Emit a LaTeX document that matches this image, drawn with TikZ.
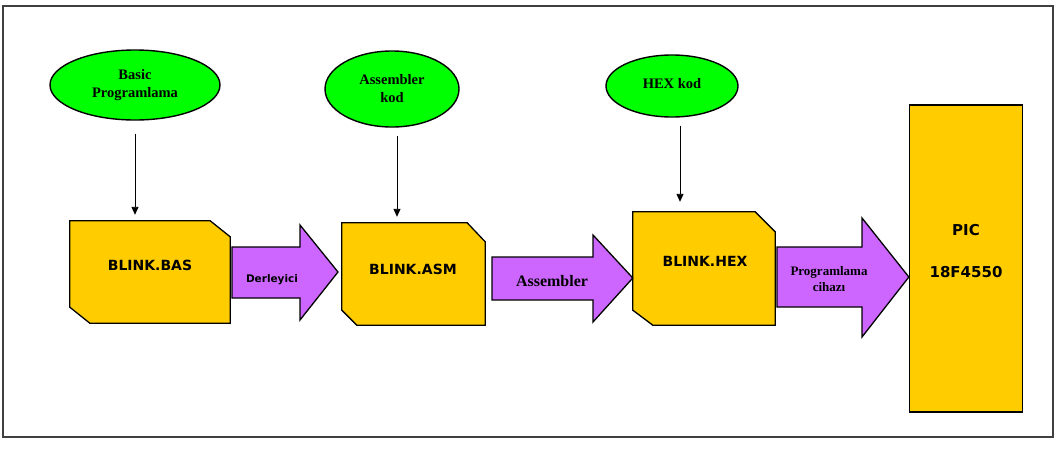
\documentclass[tikz,border=0pt]{standalone}
\usepackage{fontspec}
\setmainfont{Liberation Serif}
\newfontfamily\boxfont{DejaVu Sans}
\usetikzlibrary{arrows.meta,calc,shapes.geometric}
\definecolor{ovalgreen}{HTML}{00FF00}
\definecolor{filegold}{HTML}{FFCC00}
\definecolor{stepviolet}{HTML}{CC66FF}
\definecolor{framegray}{HTML}{404040}

\begin{document}
\begin{tikzpicture}[x=1pt,y=-1pt,
  frame/.style={draw=framegray,line width=1.3pt},
  oval/.style={ellipse,draw=black,line width=1.4pt,fill=ovalgreen,inner sep=0pt,
    align=center,font=\bfseries\fontsize{14.5}{18}\selectfont},
  anchorbox/.style={rectangle,draw=none,inner sep=0pt},
  filebox/.style={draw=black,line width=1.3pt,fill=filegold,line join=miter},
  filetext/.style={font=\boxfont\bfseries\fontsize{14}{16}\selectfont},
  blockarrow/.style={draw=black,line width=1.3pt,fill=stepviolet,line join=miter},
  feed/.style={draw=black,line width=0.9pt,-{Triangle[length=8pt,width=7pt]}},
]
\useasboundingbox (0,0) rectangle (1060,448);
\draw[frame] (3,6) rectangle (1053,437);

% source descriptions
\node[oval,minimum width=170pt,minimum height=70pt] (e1) at (135,85)
  {Basic\\Programlama};
\node[oval,minimum width=134pt,minimum height=76pt] (e2) at (392,89)
  {Assembler\\kod};
\node[oval,minimum width=132pt,minimum height=62pt] (e3) at (672,86)
  {\raisebox{6pt}{HEX kod}};

% file blocks (placeholders that carry the names)
\node[anchorbox,minimum width=160pt,minimum height=102pt] (b1) at (150,272) {};
\node[anchorbox,minimum width=143pt,minimum height=102pt] (b2) at (413.5,274) {};
\node[anchorbox,minimum width=142pt,minimum height=113pt] (b3) at (704,268.5) {};
\node[anchorbox,draw=black,line width=1.3pt,fill=filegold,
      minimum width=113pt,minimum height=307pt] (pic) at (966,258.5) {};

% snipped-corner outlines of the file blocks
\draw[filebox] (b1.north west) -- ($(b1.north east)+(-20,0)$) -- ($(b1.north east)+(0,16)$)
  -- (b1.south east) -- ($(b1.south west)+(20,0)$) -- ($(b1.south west)+(0,-16)$) -- cycle;
\draw[filebox] (b2.north west) -- ($(b2.north east)+(-18,0)$) -- ($(b2.north east)+(0,19)$)
  -- (b2.south east) -- ($(b2.south west)+(15,0)$) -- ($(b2.south west)+(0,-15)$) -- cycle;
\draw[filebox] (b3.north west) -- ($(b3.north east)+(-20,0)$) -- ($(b3.north east)+(0,20)$)
  -- (b3.south east) -- ($(b3.south west)+(20,0)$) -- ($(b3.south west)+(0,-15)$) -- cycle;

\node[filetext] at (150,265) {BLINK.BAS};
\node[filetext] at (413,269) {BLINK.ASM};
\node[filetext] at (705,261) {BLINK.HEX};
\node[filetext,font=\boxfont\bfseries\fontsize{15}{16}\selectfont] at (966,230) {PIC};
\node[filetext,font=\boxfont\bfseries\fontsize{15}{16}\selectfont] at (966,272) {18F4550};

% feeding arrows
\coordinate (x1) at (135,0);
\coordinate (x2) at (397,0);
\coordinate (x3) at (680,0);
\draw[feed] ([yshift=-13pt]x1 |- e1.south) -- ([yshift=6pt]x1 |- b1.north);
\draw[feed] ([yshift=-8pt]x2 |- e2.south) -- ([yshift=6pt]x2 |- b2.north);
\draw[feed] ([yshift=-8pt]x3 |- e3.south) -- ([yshift=10pt]x3 |- b3.north);

% processing steps between blocks
\draw[blockarrow] (232,247) -- (300,247) -- (300,225) -- (338,272)
  -- (300,320) -- (300,298) -- (232,298) -- cycle;
\draw[blockarrow] (492,257) -- (593,257) -- (593,235) -- (b3.west |- 0,278)
  -- (593,322) -- (593,300) -- (492,300) -- cycle;
\draw[blockarrow] (777,247) -- (862,247) -- (862,218) -- (pic.west |- 0,277)
  -- (862,337) -- (862,307) -- (777,307) -- cycle;

\node[font=\boxfont\bfseries\fontsize{10.5}{12}\selectfont] (l1) at (272,280) {Derleyici};
\node[font=\bfseries\fontsize{16}{18}\selectfont] (l2) at (552,281) {Assembler};
\node[font=\bfseries\fontsize{13}{16}\selectfont,align=center] (l3) at (829,279)
  {Programlama\\cihazı};
\end{tikzpicture}
\end{document}
